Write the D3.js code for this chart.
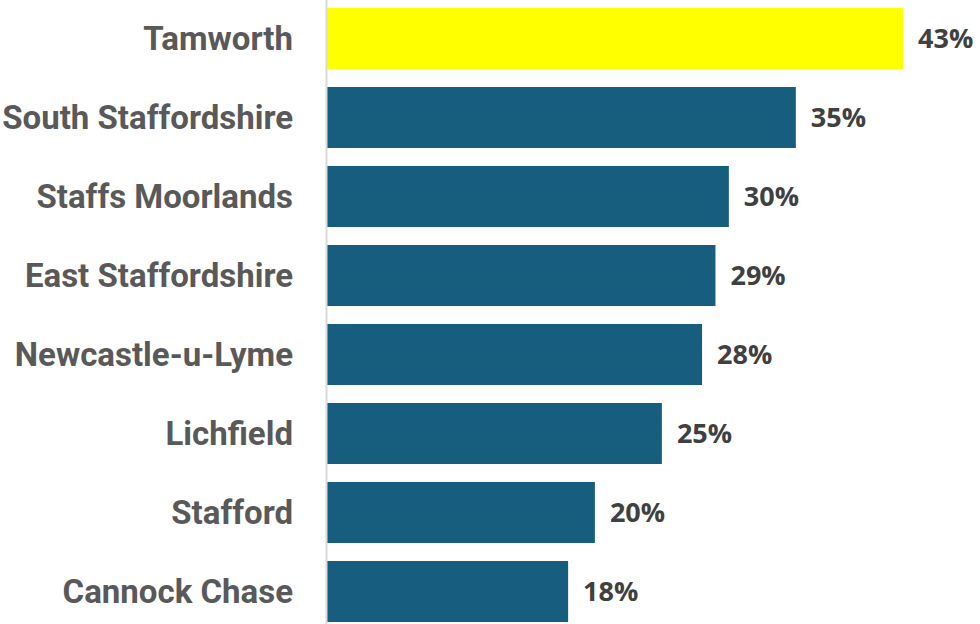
<!DOCTYPE html>
<html>
<head>
<meta charset="utf-8">
<script src="https://cdn.jsdelivr.net/npm/d3@7"></script>
<style>
  html, body { margin: 0; padding: 0; background: #fff; }
  svg { display: block; }
</style>
</head>
<body>
<svg id="chart"></svg>
<script>
// data
const districts = ["Tamworth", "South Staffordshire", "Staffs Moorlands", "East Staffordshire",
  "Newcastle-u-Lyme", "Lichfield", "Stafford", "Cannock Chase"];
const shares = [43, 35, 30, 29, 28, 25, 20, 18];
const highlight = "Tamworth";

const width = 980, height = 624;
const x0 = 327;

const svg = d3.select("#chart").attr("width", width).attr("height", height);

const x = d3.scaleLinear().domain([0, 43]).range([x0, 903]);
const y = d3.scaleBand().domain(districts).range([8, 622]).paddingInner(0.228).paddingOuter(0);

const rows = districts.map((d, i) => ({ name: d, value: shares[i] }));

svg.selectAll("rect.bar")
  .data(rows)
  .join("rect")
  .attr("class", "bar")
  .attr("x", x(0))
  .attr("y", d => y(d.name))
  .attr("width", d => x(d.value) - x(0))
  .attr("height", y.bandwidth())
  .attr("fill", d => d.name === highlight ? "#FFFF00" : "#175E7E");

// axis line
svg.append("line")
  .attr("x1", x0 - 0.5).attr("x2", x0 - 0.5)
  .attr("y1", 0).attr("y2", height)
  .attr("stroke", "#D9D9D9")
  .attr("stroke-width", 2);

// category labels
svg.selectAll("text.cat")
  .data(rows)
  .join("text")
  .attr("class", "cat")
  .attr("x", 293)
  .attr("y", d => y(d.name) + y.bandwidth() / 2)
  .attr("dy", "0.35em")
  .attr("text-anchor", "end")
  .attr("font-family", "Roboto, 'Liberation Sans', sans-serif")
  .attr("font-weight", "bold")
  .attr("font-size", 33)
  .attr("fill", "#595959")
  .text(d => d.name);

// value labels
svg.selectAll("text.val")
  .data(rows)
  .join("text")
  .attr("class", "val")
  .attr("x", d => x(d.value) + 15)
  .attr("y", d => y(d.name) + y.bandwidth() / 2)
  .attr("dy", "0.35em")
  .attr("font-family", "'Open Sans', 'Liberation Sans', sans-serif")
  .attr("font-weight", "bold")
  .attr("font-size", 27)
  .attr("fill", "#404040")
  .text(d => d.value + "%");
</script>
</body>
</html>
